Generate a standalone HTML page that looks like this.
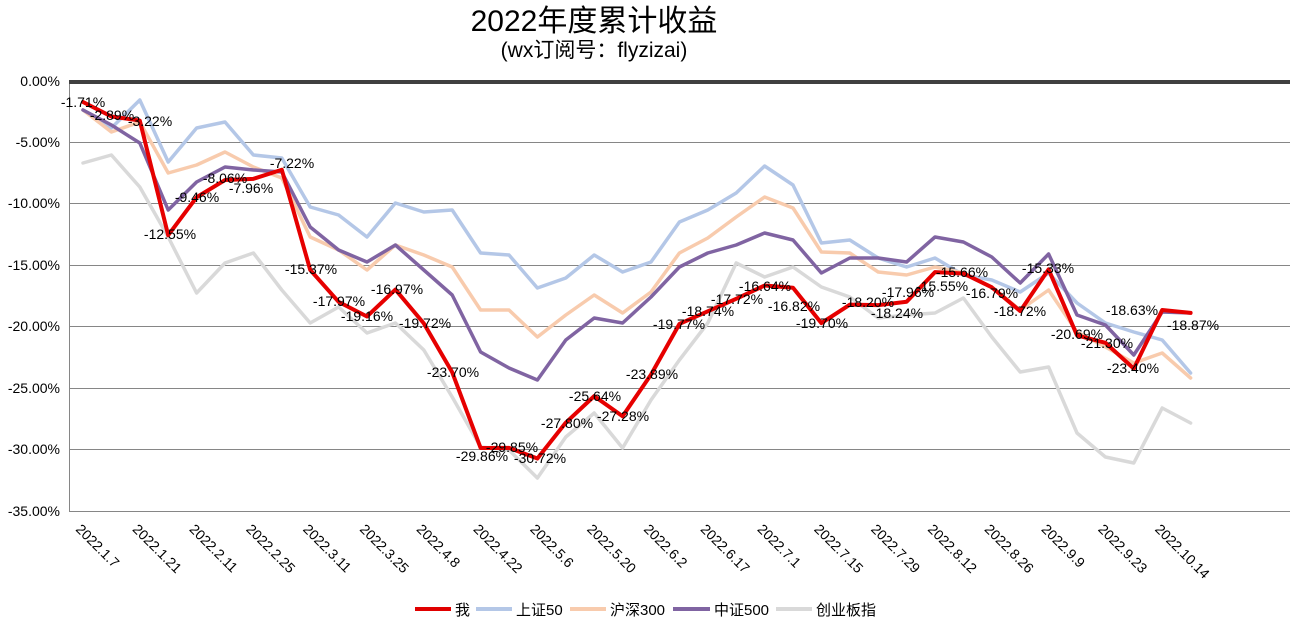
<!DOCTYPE html>
<html><head><meta charset="utf-8"><style>
html,body{margin:0;padding:0;background:#fff;}
svg{display:block;font-family:"Liberation Sans","Noto Sans CJK SC",sans-serif;}
</style></head><body>
<svg id="s" width="1301" height="624" viewBox="0 0 1301 624" xmlns="http://www.w3.org/2000/svg">
<rect width="1301" height="624" fill="#fff"/>
<text x="594" y="31" font-size="30" text-anchor="middle" fill="#000">2022年度累计收益</text>
<text x="594" y="57" font-size="21" text-anchor="middle" fill="#000">(wx订阅号：flyzizai)</text>
<g stroke="#868686" stroke-width="1">
<line x1="69" y1="142.5" x2="1290" y2="142.5"/>
<line x1="69" y1="203.5" x2="1290" y2="203.5"/>
<line x1="69" y1="265.5" x2="1290" y2="265.5"/>
<line x1="69" y1="326.5" x2="1290" y2="326.5"/>
<line x1="69" y1="388.5" x2="1290" y2="388.5"/>
<line x1="69" y1="449.5" x2="1290" y2="449.5"/>
<line x1="69" y1="511.5" x2="1290" y2="511.5"/>
<line x1="69.5" y1="81" x2="69.5" y2="511"/>
</g>
<line x1="69" y1="82" x2="1290" y2="82" stroke="#404040" stroke-width="4"/>
<g font-size="14" text-anchor="end" fill="#000">
<text x="60" y="86">0.00%</text>
<text x="60" y="147">-5.00%</text>
<text x="60" y="208">-10.00%</text>
<text x="60" y="270">-15.00%</text>
<text x="60" y="331">-20.00%</text>
<text x="60" y="393">-25.00%</text>
<text x="60" y="454">-30.00%</text>
<text x="60" y="516">-35.00%</text>
</g>
<g id="xl" font-size="14" fill="#000"></g>
<g id="lines" fill="none" stroke-linejoin="round" stroke-linecap="round"></g>
<g id="lbl" font-size="14" fill="#000" text-anchor="middle"></g>
<g font-size="15" fill="#000">
<line x1="415" y1="609" x2="451" y2="609" stroke="#e00000" stroke-width="4"/>
<text x="455" y="615">我</text>
<line x1="476" y1="609" x2="512" y2="609" stroke="#b4c7e7" stroke-width="4"/>
<text x="516" y="615">上证50</text>
<line x1="570" y1="609" x2="606" y2="609" stroke="#f8cbad" stroke-width="4"/>
<text x="610" y="615">沪深300</text>
<line x1="673" y1="609" x2="710" y2="609" stroke="#8064a2" stroke-width="4"/>
<text x="714" y="615">中证500</text>
<line x1="776" y1="609" x2="812" y2="609" stroke="#d9d9d9" stroke-width="4"/>
<text x="816" y="615">创业板指</text>
</g>
</svg>
<script>
var X=function(i){return 83+28.4*i;};
var red=[-1.71,-2.89,-3.22,-12.55,-9.46,-8.06,-7.96,-7.22,-15.37,-17.97,-19.16,-16.97,-19.72,-23.70,-29.86,-29.85,-30.72,-27.80,-25.64,-27.28,-23.89,-19.77,-18.74,-17.72,-16.64,-16.82,-19.70,-18.20,-18.24,-17.96,-15.55,-15.66,-16.79,-18.72,-15.33,-20.69,-21.30,-23.40,-18.63,-18.87];
var blue=[110,128,100,162,128,122,155,158,207,215,237,203,212,210,253,255,288,278,255,272,262,222,210,193,166,185,243,240,258,267,258,275,280,292,273,303,323,332,340,373];
var org=[110,132,122,173,165,152,167,178,237,250,270,245,255,267,310,310,337,315,295,313,292,253,238,217,197,208,252,253,272,275,267,273,287,310,290,332,347,363,353,378];
var pur=[110,125,143,210,182,167,170,172,227,250,262,245,270,295,352,368,380,340,318,323,297,267,253,245,233,240,273,258,258,262,237,242,257,283,254,315,325,355,312,313];
var gry=[163,155,187,237,293,263,253,290,323,307,333,323,350,397,447,450,478,437,413,448,400,360,323,263,277,267,287,297,318,315,313,298,337,372,367,433,457,463,408,423];
var ns="http://www.w3.org/2000/svg";
function pl(arr,col,w){var p=document.createElementNS(ns,"polyline");p.setAttribute("points",arr.map(function(y,i){return X(i).toFixed(1)+","+y;}).join(" "));p.setAttribute("stroke",col);p.setAttribute("stroke-width",w);document.getElementById("lines").appendChild(p);}
pl(gry,"#d9d9d9",3.5);pl(blue,"#b4c7e7",3.5);pl(org,"#f8cbad",3.5);pl(pur,"#8064a2",3.5);
pl(red.map(function(v){return 81-12.29*v;}),"#e60000",4);
var L=[[83,102,"-1.71%"],[112,115,"-2.89%"],[150,121,"-3.22%"],[170,234,"-12.55%"],[197,197,"-9.46%"],[225,178,"-8.06%"],[251,188,"-7.96%"],[292,163,"-7.22%"],[311,269,"-15.37%"],[339,301,"-17.97%"],[367,316,"-19.16%"],[397,289,"-16.97%"],[425,323,"-19.72%"],[453,372,"-23.70%"],[482,456,"-29.86%"],[512,447,"-29.85%"],[540,458,"-30.72%"],[567,423,"-27.80%"],[595,396,"-25.64%"],[623,416,"-27.28%"],[652,374,"-23.89%"],[679,324,"-19.77%"],[708,311,"-18.74%"],[737,299,"-17.72%"],[765,286,"-16.64%"],[794,306,"-16.82%"],[822,323,"-19.70%"],[868,302,"-18.20%"],[897,313,"-18.24%"],[908,292,"-17.96%"],[942,286,"-15.55%"],[962,272,"-15.66%"],[992,293,"-16.79%"],[1020,311,"-18.72%"],[1048,268,"-15.33%"],[1077,334,"-20.69%"],[1107,343,"-21.30%"],[1133,368,"-23.40%"],[1132,310,"-18.63%"],[1193,325,"-18.87%"]];
var g=document.getElementById("lbl");
L.forEach(function(a){var t=document.createElementNS(ns,"text");t.setAttribute("x",a[0]);t.setAttribute("y",a[1]+5);t.textContent=a[2];g.appendChild(t);});
var D=["2022.1.7","2022.1.21","2022.2.11","2022.2.25","2022.3.11","2022.3.25","2022.4.8","2022.4.22","2022.5.6","2022.5.20","2022.6.2","2022.6.17","2022.7.1","2022.7.15","2022.7.29","2022.8.12","2022.8.26","2022.9.9","2022.9.23","2022.10.14"];
var xg=document.getElementById("xl");
D.forEach(function(d,k){var x=X(2*k)-8,y=530;var t=document.createElementNS(ns,"text");t.setAttribute("x",x);t.setAttribute("y",y);t.setAttribute("transform","rotate(45 "+x+" "+y+")");t.textContent=d;xg.appendChild(t);});
</script>
</body></html>
